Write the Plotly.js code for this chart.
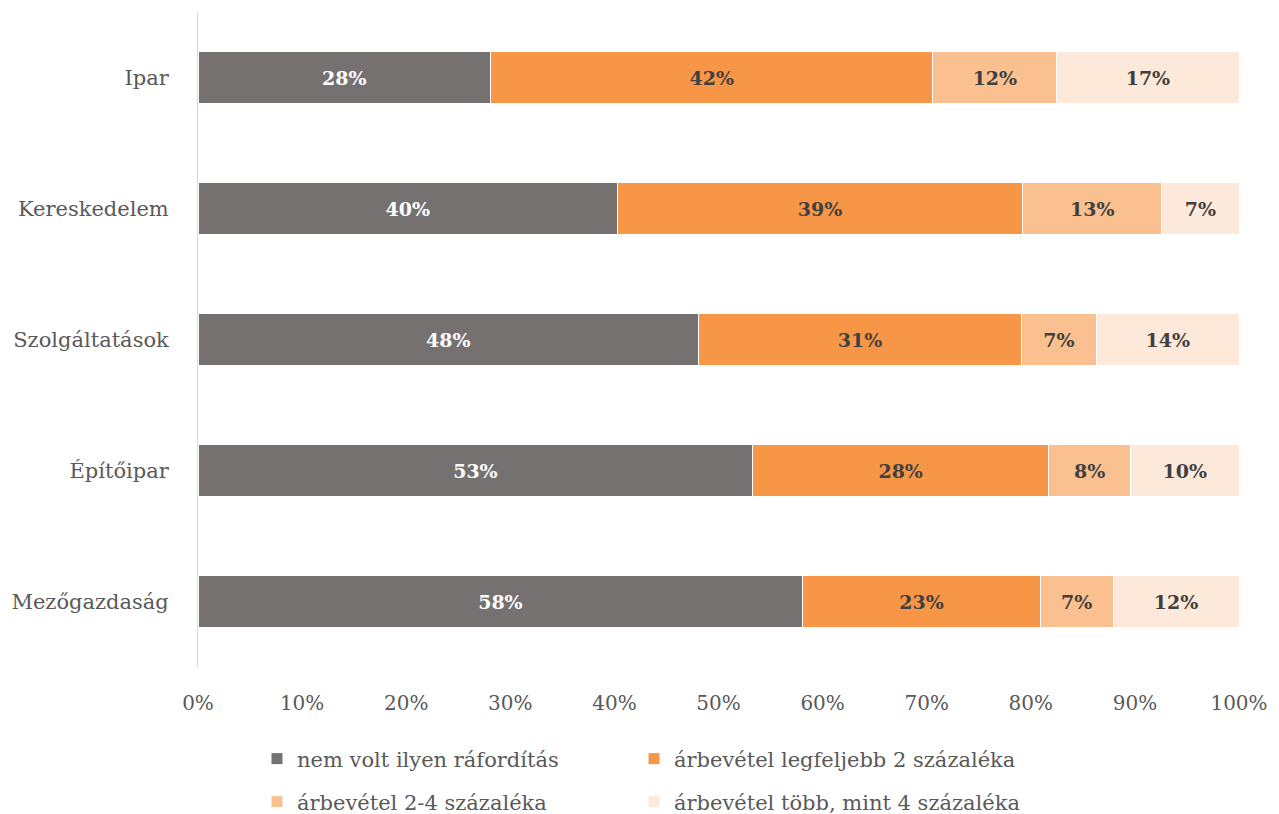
<!DOCTYPE html>
<html>
<head>
<meta charset="utf-8">
<script src="https://cdn.plot.ly/plotly-3.0.1.min.js"></script>
<style>html,body{margin:0;padding:0;background:#fff;}#chart{width:1279px;height:814px;}</style>
</head>
<body>
<div id="chart"></div>
<script>
const categories = ["Ipar", "Kereskedelem", "Szolgáltatások", "Építőipar", "Mezőgazdaság"];
const seriesNames = ["nem volt ilyen ráfordítás", "árbevétel legfeljebb 2 százaléka", "árbevétel 2-4 százaléka", "árbevétel több, mint 4 százaléka"];
// measured segment shares (percent)
const nemVolt = [28.1, 40.3, 48.1, 53.3, 58.1];
const legfeljebb2 = [42.5, 38.9, 31.0, 28.4, 22.8];
const ketto4 = [11.9, 13.4, 7.2, 7.9, 7.0];
const tobbMint4 = [17.5, 7.4, 13.7, 10.4, 12.1];
// data labels as printed
const nemVoltLbl = [28, 40, 48, 53, 58];
const legfeljebb2Lbl = [42, 39, 31, 28, 23];
const ketto4Lbl = [12, 13, 7, 8, 7];
const tobbMint4Lbl = [17, 7, 14, 10, 12];
const xTickVals = [0, 10, 20, 30, 40, 50, 60, 70, 80, 90, 100];

const colors = ["#767171", "#F79646", "#FAC090", "#FDE9D9"];
const textColors = ["#FFFFFF", "#404040", "#404040", "#404040"];
const legendIds = ["legend", "legend2", "legend3", "legend4"];
const vals = [nemVolt, legfeljebb2, ketto4, tobbMint4];
const lbls = [nemVoltLbl, legfeljebb2Lbl, ketto4Lbl, tobbMint4Lbl];
const FONT = "'DejaVu Serif', 'Liberation Serif', serif";

const traces = vals.map((v, i) => ({
  type: 'bar',
  orientation: 'h',
  name: seriesNames[i],
  legend: legendIds[i],
  y: categories,
  x: v,
  text: lbls[i].map(n => n + '%'),
  textposition: 'inside',
  insidetextanchor: 'middle',
  textangle: 0,
  constraintext: 'none',
  textfont: {family: FONT, size: 19, color: textColors[i], weight: 'bold'},
  marker: {color: colors[i], line: {color: '#FFFFFF', width: 1}},
  hoverinfo: 'none'
}));

const legendBase = {
  orientation: 'h', xref: 'container', xanchor: 'left',
  yref: 'container', yanchor: 'middle',
  font: {family: FONT, size: 21, color: '#595959'},
  itemwidth: 30, bgcolor: 'rgba(0,0,0,0)'
};
const col1 = 257 / 1279, col2 = 634 / 1279;
const row1 = 1 - 759 / 814, row2 = 1 - 802 / 814;

const layout = {
  width: 1279, height: 814,
  barmode: 'stack',
  bargap: 0.6,
  margin: {l: 198, r: 40, t: 12, b: 147},
  paper_bgcolor: '#fff', plot_bgcolor: '#fff',
  font: {family: FONT, color: '#595959', size: 20},
  xaxis: {
    range: [0, 100], tickvals: xTickVals, ticktext: xTickVals.map(v => v + '%'),
    showgrid: false, zeroline: false, showline: false, ticks: '',
    ticklabelstandoff: 22,
    tickfont: {family: FONT, size: 20, color: '#595959'}, fixedrange: true
  },
  yaxis: {
    autorange: 'reversed', type: 'category',
    showgrid: false, zeroline: false, showline: true, linecolor: '#D9D9D9', linewidth: 1,
    ticks: '', ticklabelstandoff: 24,
    tickfont: {family: FONT, size: 21, color: '#595959'}
  },
  showlegend: true,
  legend: Object.assign({}, legendBase, {x: col1, y: row1}),
  legend2: Object.assign({}, legendBase, {x: col2, y: row1}),
  legend3: Object.assign({}, legendBase, {x: col1, y: row2}),
  legend4: Object.assign({}, legendBase, {x: col2, y: row2})
};
Plotly.newPlot('chart', traces, layout, {displayModeBar: false, staticPlot: true});
</script>
</body>
</html>
